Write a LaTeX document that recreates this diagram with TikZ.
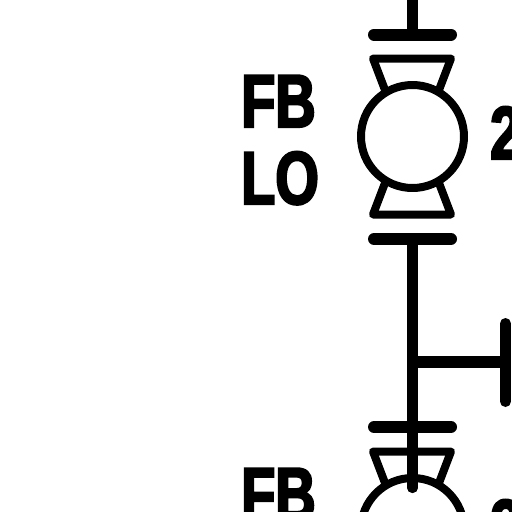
\documentclass[tikz,border=0pt]{standalone}
\usepackage{fontspec}
\newfontfamily\lab[FakeStretch=0.745,FakeBold=3]{Liberation Sans Bold}
\tikzset{
 pipe/.style={line width=11pt,line cap=round},
 flange/.style={line width=12pt,line cap=round},
 valvebody/.style={line width=8pt,line join=round},
 lbl/.style={inner sep=0pt,anchor=base west,font=\lab\fontsize{75pt}{75pt}\selectfont}
}
\begin{document}
\begin{tikzpicture}[x=1pt,y=-1pt]
\useasboundingbox (0,0) rectangle (512,512);
\clip (0,0) rectangle (512,512);
\fill[white] (0,0) rectangle (512,512);
% first valve
\coordinate (top) at (412.5,-10);
\coordinate (f1) at (412.5,34.5);
\coordinate (f2) at (412.5,239);
\coordinate (f3) at (412.5,427);
\coordinate (tee) at (412.5,362);
\coordinate (branch) at (505,362);
\coordinate (pipeend) at (412.5,487.5);
\draw[pipe] (top) -- (f1);
\draw[flange] (374,34.5) -- (451,34.5);
\draw[valvebody] (385,90) -- (373,58.5) -- (451,58.5) -- (439,90);
\draw[valvebody] (385,183) -- (373,214.5) -- (451,214.5) -- (439,183);
\draw[valvebody,fill=white] (412.5,136.5) circle (51.5);
\draw[flange] (374,239) -- (451,239);
\draw[pipe] (f2) -- (pipeend);
\draw[line width=12pt] (tee) -- (branch);
\draw[line width=11pt,line cap=round] (505.5,323.5) -- (505.5,401.5);
\draw[flange] (374,427) -- (451,427);
% second valve
\draw[valvebody] (385,483) -- (373,451.5) -- (451,451.5) -- (439,483);
\draw[valvebody] (412.5,529.5) circle (51.5);
\draw[pipe] (f3) -- (pipeend);
\node[lbl] (fb1) at (241,127) {FB};
\node[lbl] (lo1) at (241,204) {LO};
\node[lbl] (fb2) at (241,520) {FB};
\node[lbl] (two1) at (490,159) {2};
\node[lbl] (two2) at (490,552) {2};
\end{tikzpicture}
\end{document}
